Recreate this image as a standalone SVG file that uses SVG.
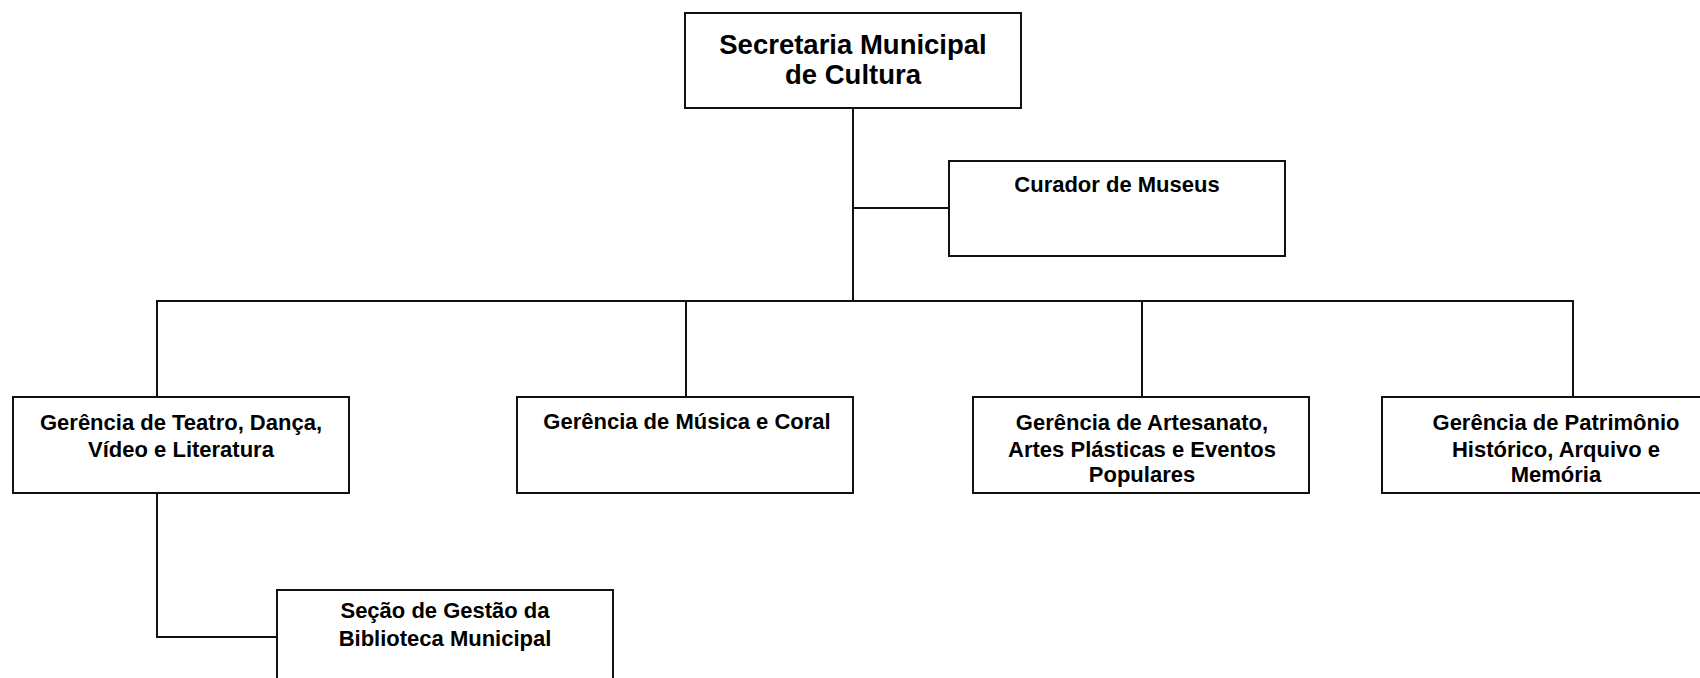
<svg xmlns="http://www.w3.org/2000/svg" width="1700" height="678" viewBox="0 0 1700 678">
<style>
.box{fill:#fff;stroke:#111;stroke-width:2}
.conn{fill:none;stroke:#111;stroke-width:2}
text{font-family:"Liberation Sans",Arial,sans-serif;font-weight:bold;fill:#000;text-anchor:middle}
.t1{font-size:27.5px}
.t2{font-size:22px}
</style>
<rect width="1700" height="678" fill="#fff"/>
<g id="connectors">
<path class="conn" d="M853 109 V301"/>
<path class="conn" d="M853 208 H949"/>
<path class="conn" d="M157 397 V301 H1573 V397"/>
<path class="conn" d="M686 301 V397"/>
<path class="conn" d="M1142 301 V397"/>
<path class="conn" d="M157 493 V637 H277"/>
</g>
<g id="secretaria">
<rect class="box" x="685" y="13" width="336" height="95"/>
<text class="t1" x="853" y="54">Secretaria Municipal</text>
<text class="t1" x="853" y="84">de Cultura</text>
</g>
<g id="curador">
<rect class="box" x="949" y="161" width="336" height="95"/>
<text class="t2" x="1117" y="192">Curador de Museus</text>
</g>
<g id="teatro">
<rect class="box" x="13" y="397" width="336" height="96"/>
<text class="t2" x="181" y="430">Gerência de Teatro, Dança,</text>
<text class="t2" x="181" y="457">Vídeo e Literatura</text>
</g>
<g id="musica">
<rect class="box" x="517" y="397" width="336" height="96"/>
<text class="t2" x="687" y="429">Gerência de Música e Coral</text>
</g>
<g id="artesanato">
<rect class="box" x="973" y="397" width="336" height="96"/>
<text class="t2" x="1142" y="430">Gerência de Artesanato,</text>
<text class="t2" x="1142" y="457">Artes Plásticas e Eventos</text>
<text class="t2" x="1142" y="482">Populares</text>
</g>
<g id="patrimonio">
<rect class="box" x="1382" y="397" width="336" height="96"/>
<text class="t2" x="1556" y="430">Gerência de Patrimônio</text>
<text class="t2" x="1556" y="457">Histórico, Arquivo e</text>
<text class="t2" x="1556" y="482">Memória</text>
</g>
<g id="biblioteca">
<rect class="box" x="277" y="590" width="336" height="100"/>
<text class="t2" x="445" y="618">Seção de Gestão da</text>
<text class="t2" x="445" y="646">Biblioteca Municipal</text>
</g>
</svg>
